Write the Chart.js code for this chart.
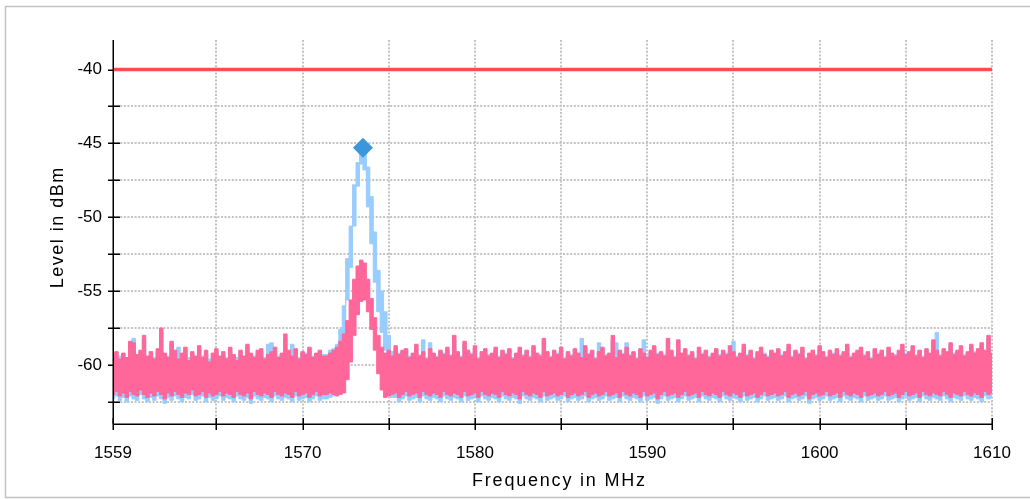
<!DOCTYPE html>
<html><head><meta charset="utf-8">
<script src="https://cdn.jsdelivr.net/npm/chart.js@4.4.0/dist/chart.umd.min.js"></script>
<style>html,body{margin:0;padding:0;background:#fff;overflow:hidden}canvas{display:block}</style>
</head><body>
<canvas id="c" width="1030" height="499" style="width:1030px;height:499px"></canvas>
<script>
// ---- data ----
const freqStart = 1559, freqStep = 0.2, freqEnd = 1610;
const xTickValues = [1559,1565,1570,1575,1580,1585,1590,1595,1600,1605,1610];
const xLabelValues = [1559,1570,1580,1590,1600,1610];
const yTickValues = [-62.5,-60,-57.5,-55,-52.5,-50,-47.5,-45,-42.5,-40];
const yLabelValues = [-60,-55,-50,-45,-40];
const xTitle = 'Frequency in MHz';
const yTitle = 'Level in dBm';
const limitLevel = -40;
const markerFreq = 1573.5, markerLevel = -45.3;

const blueHi = [
-59.5,-59.3,-59.4,-59.3,-59.6,-58.6,-58.2,-59.4,-59.2,-58.3,-59.5,-59.3,-59.5,-59.1,-57.8,-59.3,
-59.4,-58.6,-59.2,-58.8,-59.3,-59.0,-59.5,-59.2,-59.5,-58.9,-59.4,-59.2,-59.6,-59.3,-59.1,-59.5,
-59.3,-59.5,-59.0,-59.4,-59.5,-59.2,-59.5,-58.8,-59.3,-59.4,-59.2,-59.1,-59.5,-58.6,-58.5,-59.0,
-59.4,-59.3,-58.2,-59.2,-58.6,-59.1,-59.5,-59.2,-59.2,-59.0,-59.4,-59.3,-59.2,-59.3,-59.3,-59.0,
-58.9,-58.6,-57.6,-56.0,-52.8,-50.6,-47.8,-46.3,-45.4,-45.3,-46.6,-48.6,-51.0,-53.6,-55.0,-56.4,
-58.0,-59.1,-58.9,-59.2,-59.1,-59.0,-59.4,-59.3,-58.8,-59.3,-58.3,-59.5,-58.5,-59.3,-59.4,-59.1,
-59.2,-59.0,-59.3,-58.3,-59.2,-59.4,-58.6,-59.1,-59.2,-58.9,-59.5,-59.2,-59.0,-59.3,-59.3,-59.0,
-59.4,-59.1,-59.2,-59.0,-59.5,-59.3,-59.0,-59.3,-59.1,-59.4,-58.9,-59.3,-59.3,-58.4,-59.2,-59.4,
-59.1,-59.2,-59.0,-59.5,-59.2,-59.3,-59.0,-59.3,-58.2,-58.9,-59.2,-59.1,-59.5,-58.5,-59.0,-59.3,
-59.3,-58.3,-58.5,-59.1,-59.2,-58.5,-59.3,-59.2,-59.5,-59.0,-58.3,-59.4,-59.1,-58.9,-59.2,-59.2,
-59.3,-58.4,-59.1,-59.4,-58.5,-59.3,-59.0,-59.3,-59.2,-59.5,-59.0,-59.2,-59.1,-59.4,-59.3,-59.0,
-59.3,-59.1,-59.2,-58.9,-58.4,-59.4,-59.3,-58.8,-59.3,-59.1,-59.5,-59.2,-59.0,-59.2,-59.4,-59.1,
-59.3,-59.0,-59.3,-59.2,-58.8,-59.4,-59.1,-59.2,-59.0,-59.5,-59.3,-59.1,-59.3,-58.9,-59.2,-59.4,
-59.1,-59.2,-59.0,-59.3,-59.2,-58.8,-59.4,-59.3,-59.1,-59.0,-59.3,-59.2,-59.5,-59.0,-59.2,-59.1,
-59.4,-59.0,-59.3,-59.3,-59.1,-58.8,-59.2,-59.2,-58.9,-59.3,-59.1,-59.4,-59.0,-59.3,-58.5,-57.8,
-59.3,-59.0,-59.2,-58.7,-59.2,-59.1,-58.9,-59.3,-59.2,-58.8,-59.1,-59.0,-58.7,-59.1,-58.2,-59.3
];
const blueLo = [
-62.3,-62.1,-62.4,-62.2,-62.5,-62.1,-62.3,-62.4,-62.0,-62.3,-62.5,-62.2,-62.4,-62.1,-62.3,-62.6,
-62.2,-62.4,-62.1,-62.3,-62.5,-62.2,-62.3,-62.0,-62.4,-62.3,-62.1,-62.5,-62.2,-62.4,-62.3,-62.1,
-62.4,-62.2,-62.3,-62.5,-62.1,-62.3,-62.4,-62.2,-62.6,-62.1,-62.3,-62.4,-62.2,-62.3,-62.5,-62.1,
-62.3,-62.4,-62.2,-62.3,-62.5,-62.1,-62.4,-62.3,-62.2,-62.5,-62.3,-62.1,-62.4,-62.3,-62.3,-62.2,
-62.1,-61.2,-60.0,-58.6,-55.6,-53.4,-50.6,-47.9,-46.4,-46.8,-49.3,-51.8,-54.4,-56.4,-57.8,-59.0,
-61.0,-62.2,-62.2,-62.5,-62.3,-62.1,-62.4,-62.3,-62.2,-62.5,-62.1,-62.3,-62.4,-62.2,-62.3,-62.5,
-62.1,-62.3,-62.4,-62.2,-62.3,-62.5,-62.1,-62.4,-62.3,-62.2,-62.5,-62.1,-62.3,-62.4,-62.2,-62.3,
-62.5,-62.1,-62.3,-62.4,-62.2,-62.3,-62.6,-62.1,-62.3,-62.4,-62.2,-62.3,-62.5,-62.1,-62.4,-62.3,
-62.2,-62.4,-62.3,-62.1,-62.5,-62.3,-62.2,-62.4,-62.3,-62.1,-62.5,-62.3,-62.2,-62.4,-62.3,-62.1,
-62.4,-62.3,-62.2,-62.5,-62.1,-62.3,-62.4,-62.2,-62.3,-62.5,-62.1,-62.4,-62.3,-62.2,-62.6,-62.3,
-62.1,-62.4,-62.3,-62.2,-62.5,-62.3,-62.1,-62.4,-62.3,-62.2,-62.5,-62.1,-62.3,-62.4,-62.2,-62.3,
-62.5,-62.1,-62.3,-62.4,-62.2,-62.3,-62.5,-62.1,-62.4,-62.3,-62.2,-62.5,-62.3,-62.1,-62.4,-62.3,
-62.2,-62.4,-62.3,-62.1,-62.5,-62.3,-62.2,-62.4,-62.3,-62.1,-62.6,-62.3,-62.2,-62.4,-62.3,-62.1,
-62.4,-62.3,-62.2,-62.5,-62.1,-62.3,-62.4,-62.2,-62.3,-62.5,-62.1,-62.4,-62.3,-62.2,-62.4,-62.3,
-62.1,-62.4,-62.3,-62.2,-62.5,-62.3,-62.1,-62.4,-62.3,-62.2,-62.5,-62.1,-62.3,-62.4,-62.2,-62.3,
-62.4,-62.1,-62.3,-62.5,-62.2,-62.3,-62.4,-62.1,-62.3,-62.4,-62.2,-62.3,-62.5,-62.1,-62.3,-62.2
];
const pinkHi = [
-59.4,-59.1,-59.6,-59.2,-59.5,-58.4,-58.5,-59.3,-59.0,-58.0,-59.4,-59.1,-59.6,-58.9,-57.5,-59.2,
-59.5,-58.4,-59.0,-59.6,-59.2,-58.8,-59.7,-59.1,-59.4,-58.7,-59.5,-59.0,-59.8,-59.2,-58.9,-59.4,
-59.1,-59.6,-58.8,-59.3,-59.7,-59.0,-59.4,-58.6,-59.2,-59.5,-59.0,-58.9,-59.6,-59.3,-59.1,-58.8,
-59.5,-59.2,-57.9,-59.0,-59.4,-58.9,-59.6,-59.1,-59.3,-58.8,-59.5,-59.2,-59.0,-59.4,-59.4,-59.2,
-59.0,-58.8,-58.4,-57.9,-57.0,-55.6,-54.2,-53.3,-52.9,-53.1,-54.2,-55.5,-56.8,-58.0,-58.8,-59.2,
-59.0,-59.4,-58.7,-59.3,-59.0,-58.9,-59.5,-59.2,-58.6,-59.4,-59.1,-59.6,-58.9,-59.2,-59.5,-59.0,
-59.3,-58.8,-59.4,-58.0,-59.1,-59.5,-58.4,-59.0,-59.3,-58.7,-59.6,-59.1,-58.9,-59.4,-59.2,-58.8,
-59.5,-59.0,-59.3,-58.9,-59.6,-59.2,-58.8,-59.4,-59.0,-59.5,-58.7,-59.2,-59.4,-58.2,-59.1,-59.5,
-59.0,-59.3,-58.8,-59.6,-59.1,-59.4,-58.9,-59.2,-59.5,-58.7,-59.3,-59.0,-59.6,-59.1,-58.8,-59.4,
-59.2,-58.0,-59.5,-59.0,-59.3,-58.8,-59.4,-59.1,-59.6,-58.9,-59.2,-59.5,-59.0,-58.7,-59.3,-59.1,
-59.4,-58.2,-59.0,-59.5,-58.3,-59.2,-58.9,-59.4,-59.1,-59.6,-58.8,-59.3,-59.0,-59.5,-59.2,-58.9,
-59.4,-59.0,-59.3,-58.7,-59.1,-59.5,-59.2,-58.6,-59.4,-59.0,-59.6,-59.1,-58.8,-59.3,-59.5,-59.0,
-59.2,-58.9,-59.4,-59.1,-58.6,-59.5,-59.0,-59.3,-58.8,-59.6,-59.2,-59.0,-59.4,-58.7,-59.1,-59.5,
-59.0,-59.3,-58.9,-59.4,-59.1,-58.6,-59.5,-59.2,-59.0,-58.8,-59.4,-59.1,-59.6,-58.9,-59.3,-59.0,
-59.5,-58.8,-59.2,-59.4,-59.0,-58.6,-59.3,-59.1,-58.7,-59.4,-59.0,-59.5,-58.9,-59.2,-58.3,-59.0,
-59.4,-58.9,-59.1,-58.5,-59.3,-59.0,-58.7,-59.4,-59.1,-58.6,-59.2,-58.9,-58.5,-59.0,-58.0,-59.2
];
const pinkLo = [
-62.0,-61.8,-62.1,-61.9,-62.2,-61.8,-62.0,-62.1,-61.7,-62.0,-62.2,-61.9,-62.1,-61.8,-62.0,-62.3,
-61.9,-62.1,-61.8,-62.0,-62.2,-61.9,-62.0,-61.7,-62.1,-62.0,-61.8,-62.2,-61.9,-62.1,-62.0,-61.8,
-62.1,-61.9,-62.0,-62.2,-61.8,-62.0,-62.1,-61.9,-62.3,-61.8,-62.0,-62.1,-61.9,-62.0,-62.2,-61.8,
-62.0,-62.1,-61.9,-62.0,-62.2,-61.8,-62.1,-62.0,-61.9,-62.2,-62.0,-61.8,-62.1,-62.0,-62.0,-61.9,
-62.0,-62.1,-62.0,-61.9,-61.0,-59.8,-58.0,-56.6,-55.7,-55.6,-56.4,-57.6,-59.0,-60.6,-61.7,-62.2,
-62.1,-62.0,-61.9,-62.2,-62.0,-61.8,-62.1,-62.0,-61.9,-62.2,-61.8,-62.0,-62.1,-61.9,-62.0,-62.2,
-61.8,-62.0,-62.1,-61.9,-62.0,-62.2,-61.8,-62.1,-62.0,-61.9,-62.2,-61.8,-62.0,-62.1,-61.9,-62.0,
-62.2,-61.8,-62.0,-62.1,-61.9,-62.0,-62.3,-61.8,-62.0,-62.1,-61.9,-62.0,-62.2,-61.8,-62.1,-62.0,
-61.9,-62.1,-62.0,-61.8,-62.2,-62.0,-61.9,-62.1,-62.0,-61.8,-62.2,-62.0,-61.9,-62.1,-62.0,-61.8,
-62.1,-62.0,-61.9,-62.2,-61.8,-62.0,-62.1,-61.9,-62.0,-62.2,-61.8,-62.1,-62.0,-61.9,-62.3,-62.0,
-61.8,-62.1,-62.0,-61.9,-62.2,-62.0,-61.8,-62.1,-62.0,-61.9,-62.2,-61.8,-62.0,-62.1,-61.9,-62.0,
-62.2,-61.8,-62.0,-62.1,-61.9,-62.0,-62.2,-61.8,-62.1,-62.0,-61.9,-62.2,-62.0,-61.8,-62.1,-62.0,
-61.9,-62.1,-62.0,-61.8,-62.2,-62.0,-61.9,-62.1,-62.0,-61.8,-62.3,-62.0,-61.9,-62.1,-62.0,-61.8,
-62.1,-62.0,-61.9,-62.2,-61.8,-62.0,-62.1,-61.9,-62.0,-62.2,-61.8,-62.1,-62.0,-61.9,-62.1,-62.0,
-61.8,-62.1,-62.0,-61.9,-62.2,-62.0,-61.8,-62.1,-62.0,-61.9,-62.2,-61.8,-62.0,-62.1,-61.9,-62.0,
-62.1,-61.8,-62.0,-62.2,-61.9,-62.0,-62.1,-61.8,-62.0,-62.1,-61.9,-62.0,-62.2,-61.8,-62.0,-61.9
];

// ---- build ----
function toPoints(arr) {
  return arr.map((v, i) => ({ x: Math.round((freqStart + i * freqStep) * 10) / 10, y: v }));
}
const BLUE = '#99ccff', PINK = '#ff6699', RED = '#ff4d4d', MARK = '#3b96dc';
const FAMILY = '"Liberation Sans", Arial, Helvetica, sans-serif';
const FONT = { family: FAMILY, size: 17 };

function spec(arr, color, fill, order) {
  return { data: toPoints(arr), borderColor: color, backgroundColor: color, borderWidth: 1,
    pointRadius: 0, stepped: 'middle', tension: 0, fill: fill, order: order };
}

function drawSpaced(c, text, cx, y, spacing) {
  const widths = [...text].map(ch => c.measureText(ch).width);
  const total = widths.reduce((a, b) => a + b, 0) + spacing * (text.length - 1);
  let x = cx - total / 2;
  c.textAlign = 'left';
  [...text].forEach((ch, i) => { c.fillText(ch, x, y); x += widths[i] + spacing; });
}

const framePlugin = {
  id: 'framePlugin',
  beforeDraw(chart) {
    const c = chart.ctx;
    c.save();
    c.fillStyle = '#fff';
    c.fillRect(0, 0, chart.width, chart.height);
    c.strokeStyle = '#c2c2c2';
    c.lineWidth = 1.5;
    c.strokeRect(5.5, 6.5, chart.width + 10, 491);
    c.restore();
  },
  beforeDatasetsDraw(chart) {
    const c = chart.ctx, a = chart.chartArea, xs = chart.scales.x, ys = chart.scales.y;
    c.save();
    c.strokeStyle = '#c4c4c4';
    c.lineWidth = 2;
    c.setLineDash([2, 1.6]);
    yTickValues.forEach(v => {
      const y = Math.round(ys.getPixelForValue(v));
      c.beginPath(); c.moveTo(a.left, y); c.lineTo(a.right, y); c.stroke();
    });
    xTickValues.forEach(v => {
      if (v === freqStart) return;
      const x = Math.round(xs.getPixelForValue(v));
      c.beginPath(); c.moveTo(x, a.top); c.lineTo(x, a.bottom); c.stroke();
    });
    c.setLineDash([]);
    c.strokeStyle = '#000';
    c.lineWidth = 1.5;
    yTickValues.forEach(v => {
      const y = Math.round(ys.getPixelForValue(v)) + 0.25;
      c.beginPath(); c.moveTo(a.left - 5, y); c.lineTo(a.left + 7, y); c.stroke();
    });
    xTickValues.forEach(v => {
      const x = Math.round(xs.getPixelForValue(v)) + 0.25;
      c.beginPath(); c.moveTo(x, a.bottom - 6); c.lineTo(x, a.bottom + 6); c.stroke();
    });
    c.restore();
  },
  afterDatasetsDraw(chart) {
    const c = chart.ctx, a = chart.chartArea;
    c.save();
    c.strokeStyle = '#000';
    c.lineWidth = 1.5;
    const L = Math.round(a.left) + 0.25, B = Math.round(a.bottom) + 0.25;
    c.beginPath(); c.moveTo(L, a.top); c.lineTo(L, B); c.stroke();
    c.beginPath(); c.moveTo(L, B); c.lineTo(a.right, B); c.stroke();
    // axis titles
    c.fillStyle = '#000';
    c.font = '18px ' + FAMILY;
    c.textBaseline = 'alphabetic';
    drawSpaced(c, xTitle, (a.left + a.right) / 2 + 6, a.bottom + 62, 1.8);
    c.translate(a.left - 50, (a.top + a.bottom) / 2 - 4);
    c.rotate(-Math.PI / 2);
    drawSpaced(c, yTitle, 0, 0, 1.5);
    c.restore();
  }
};

new Chart(document.getElementById('c'), {
  type: 'line',
  data: {
    datasets: [
      spec(blueHi, BLUE, '+1', 4),
      spec(blueLo, BLUE, false, 5),
      spec(pinkHi, PINK, '+1', 2),
      spec(pinkLo, PINK, false, 3),
      { data: [{ x: freqStart, y: limitLevel }, { x: freqEnd, y: limitLevel }], borderColor: RED,
        borderWidth: 3.5, pointRadius: 0, fill: false, order: 1 },
      { data: [{ x: markerFreq, y: markerLevel }], showLine: false, pointStyle: 'rectRot',
        pointRadius: 10, pointBackgroundColor: MARK, pointBorderColor: MARK, pointBorderWidth: 0, order: 0 }
    ]
  },
  options: {
    responsive: false,
    animation: false,
    devicePixelRatio: 1,
    layout: { padding: { left: 5, top: 40, right: 38, bottom: 0 } },
    plugins: { legend: { display: false }, tooltip: { enabled: false } },
    scales: {
      x: {
        type: 'linear', min: freqStart, max: freqEnd,
        afterBuildTicks: s => { s.ticks = xTickValues.map(v => ({ value: v })); },
        afterFit: s => { s.height = 75; },
        grid: { display: false, drawTicks: false },
        border: { display: false },
        ticks: { autoSkip: false, maxRotation: 0, padding: 19, color: '#000', font: FONT,
          callback: v => xLabelValues.includes(v) ? String(v) : '' },
        title: { display: false }
      },
      y: {
        min: -64, max: -38,
        afterBuildTicks: s => { s.ticks = yTickValues.map(v => ({ value: v })); },
        afterFit: s => { s.width = 108; },
        grid: { display: false, drawTicks: false },
        border: { display: false },
        ticks: { padding: 11, color: '#000', font: FONT,
          callback: v => yLabelValues.includes(v) ? String(v) : '' },
        title: { display: false }
      }
    }
  },
  plugins: [framePlugin]
});
</script>
</body></html>
